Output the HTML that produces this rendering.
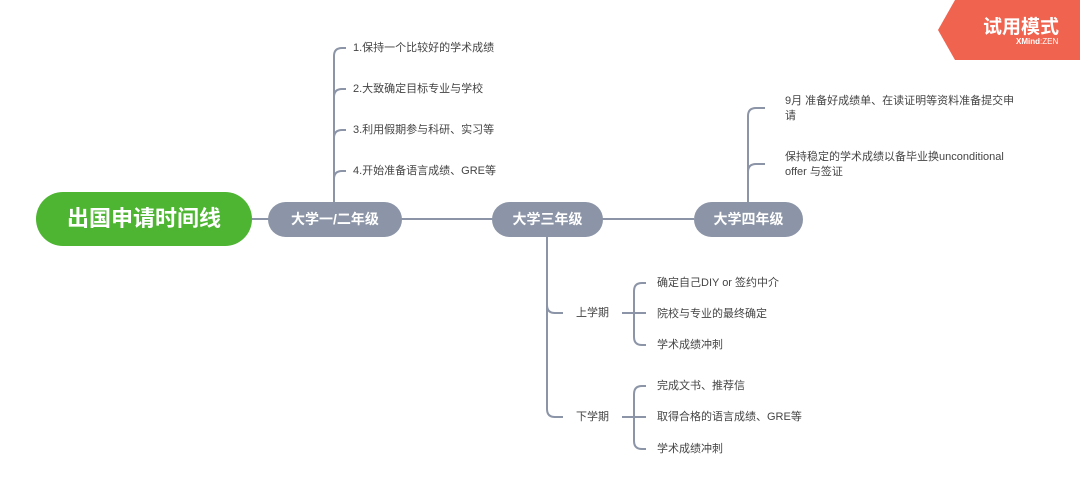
<!DOCTYPE html>
<html><head><meta charset="utf-8"><style>
body{margin:0;width:1080px;height:497px;background:#fff;overflow:hidden;position:relative;font-family:"Liberation Sans","Noto Sans CJK SC",sans-serif}
.t{position:absolute;font-size:11px;color:#444;white-space:nowrap;line-height:15px}
.n{position:absolute;background:#8c95a7;color:#fff;font-weight:bold;font-size:14px;text-align:center;border-radius:18px;height:35px;line-height:35px}
</style></head><body>
<svg width="1080" height="497" style="position:absolute;left:0;top:0" fill="none" stroke="#8c95a7" stroke-width="2">
<path d="M252 219H694"/>
<path d="M334 202V56Q334 48 342 48H346M334 97Q334 89 342 89H346M334 138Q334 130 342 130H346M334 179Q334 171 342 171H346"/>
<path d="M547 237V409Q547 417 555 417H563M547 305Q547 313 555 313H563"/>
<path d="M622 313H646M634 313V291Q634 283 642 283H646M634 313V337Q634 345 642 345H646"/>
<path d="M622 417H646M634 417V394Q634 386 642 386H646M634 417V441Q634 449 642 449H646"/>
<path d="M748 202V116Q748 108 756 108H765M748 172Q748 164 756 164H765"/>
<polygon points="938,30 955,0 1080,0 1080,60 955,60" fill="#f0634f" stroke="none"/>
</svg>
<div style="position:absolute;left:983px;top:12px;color:#fff;font-size:19px;font-weight:bold">试用模式</div>
<div style="position:absolute;left:1016px;top:37px;color:#fff;font-size:8px;font-weight:bold">XMind<span style="font-weight:normal">:ZEN</span></div>
<div style="position:absolute;left:36px;top:192px;width:216px;height:54px;border-radius:27px;background:#4db531;color:#fff;font-weight:bold;font-size:22px;line-height:54px;text-align:center">出国申请时间线</div>
<div class="n" style="left:268px;top:202px;width:134px">大学一/二年级</div>
<div class="n" style="left:492px;top:202px;width:111px">大学三年级</div>
<div class="n" style="left:694px;top:202px;width:109px">大学四年级</div>
<div class="t" style="left:353px;top:41px">1.保持一个比较好的学术成绩</div>
<div class="t" style="left:353px;top:82px">2.大致确定目标专业与学校</div>
<div class="t" style="left:353px;top:123px">3.利用假期参与科研、实习等</div>
<div class="t" style="left:353px;top:164px">4.开始准备语言成绩、GRE等</div>
<div class="t" style="left:576px;top:306px">上学期</div>
<div class="t" style="left:576px;top:410px">下学期</div>
<div class="t" style="left:657px;top:276px">确定自己DIY or 签约中介</div>
<div class="t" style="left:657px;top:307px">院校与专业的最终确定</div>
<div class="t" style="left:657px;top:338px">学术成绩冲刺</div>
<div class="t" style="left:657px;top:379px">完成文书、推荐信</div>
<div class="t" style="left:657px;top:410px">取得合格的语言成绩、GRE等</div>
<div class="t" style="left:657px;top:442px">学术成绩冲刺</div>
<div class="t" style="left:785px;top:94px">9月 准备好成绩单、在读证明等资料准备提交申<br>请</div>
<div class="t" style="left:785px;top:150px">保持稳定的学术成绩以备毕业换unconditional<br>offer 与签证</div>
</body></html>
